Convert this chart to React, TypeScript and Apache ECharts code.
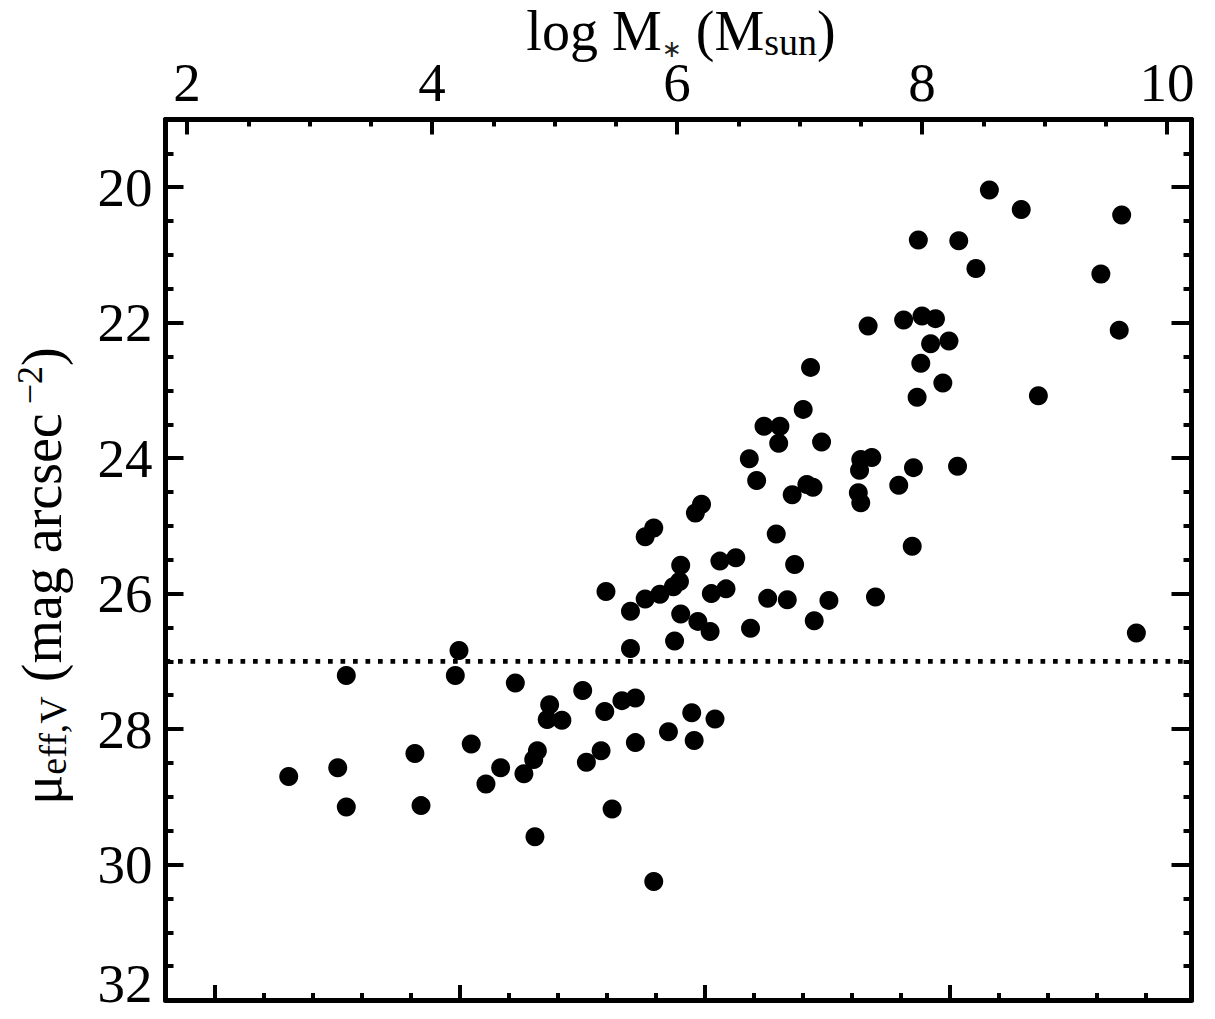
import React, { useEffect, useRef } from "react";
import * as echarts from "echarts";

// Axis ranges
const X_MIN = 1.824;
const X_MAX = 10.2;
const BX_MIN = 1.6;
const BX_MAX = 9.976;
const Y_MIN = 19;
const Y_MAX = 32;

// Tick values
const topMajor = [2, 4, 6, 8, 10];
const topMinor = [2.5, 3, 3.5, 4.5, 5, 5.5, 6.5, 7, 7.5, 8.5, 9, 9.5];
const bottomMajor = [2, 4, 6, 8];
const bottomMinor = [2.4, 2.8, 3.2, 3.6, 4.4, 4.8, 5.2, 5.6, 6.4, 6.8, 7.2, 7.6, 8.4, 8.8, 9.2, 9.6];
const yMajor = [20, 22, 24, 26, 28, 30, 32];
const yMinor = [19.5, 20.5, 21, 21.5, 22.5, 23, 23.5, 24.5, 25, 25.5, 26.5, 27, 27.5, 28.5, 29, 29.5, 30.5, 31, 31.5];

// Data: log stellar mass and effective surface brightness
const logMass = [
  2.83, 3.23, 3.30, 3.30, 3.86, 3.91, 4.22, 4.19, 4.32, 4.68,
  4.56, 4.44, 4.84, 4.96, 4.94, 5.06, 4.86, 4.83, 4.75, 5.23,
  5.41, 5.55, 5.66, 5.26, 5.38, 5.66, 5.93, 5.47, 5.81, 5.62,
  5.98, 6.12, 6.31, 6.14, 5.42, 5.62, 5.74, 5.86, 5.97, 6.02,
  6.03, 6.03, 6.17, 6.27, 5.81, 5.74, 6.20, 6.15, 6.35, 6.48,
  6.28, 6.40, 6.60, 6.74, 6.90, 7.12, 7.24, 7.62, 6.81, 6.96,
  6.65, 6.94, 7.06, 7.11, 6.59, 6.71, 6.84, 6.83, 7.18, 7.03,
  7.09, 7.50, 7.59, 7.49, 7.48, 7.50, 7.93, 7.81, 8.29, 7.92,
  7.56, 7.85, 8.00, 8.11, 8.07, 8.22, 7.99, 8.17, 7.96, 8.95,
  7.97, 8.30, 8.44, 8.55, 8.81, 9.63, 9.46, 9.61, 9.75,
];
const muEff = [
  28.70, 28.57, 27.21, 29.15, 28.36, 29.13, 26.84, 27.21, 28.22, 27.32,
  28.57, 28.81, 29.59, 27.64, 27.86, 27.87, 28.32, 28.45, 28.66, 27.43,
  27.74, 27.58, 27.54, 28.49, 28.32, 28.20, 28.04, 29.18, 30.25, 26.81,
  26.70, 27.76, 27.85, 28.17, 25.97, 26.26, 26.08, 26.01, 25.90, 25.82,
  25.58, 26.30, 26.41, 26.56, 25.03, 25.16, 24.68, 24.81, 25.52, 25.47,
  26.00, 25.93, 26.51, 26.07, 26.09, 26.40, 26.10, 26.05, 25.12, 25.57,
  24.33, 24.54, 24.39, 24.43, 24.01, 23.53, 23.53, 23.78, 23.76, 23.28,
  22.66, 24.02, 23.99, 24.18, 24.51, 24.66, 24.14, 24.40, 24.12, 25.30,
  22.05, 21.96, 21.90, 21.94, 22.31, 22.27, 22.60, 22.89, 23.10, 23.08,
  20.78, 20.79, 21.20, 20.04, 20.33, 20.41, 21.28, 22.11, 26.58,
];
const limitMu = 27;

const FONT = "Liberation Serif";

export default function App() {
  const ref = useRef<HTMLDivElement>(null);

  useEffect(() => {
    if (!ref.current) return;
    const chart = echarts.init(ref.current, undefined, { renderer: "svg" });

    const axisLine = { show: true, lineStyle: { color: "#000", width: 5 } };
    const noLine = { show: false };
    const label = {
      show: true,
      fontFamily: FONT,
      fontSize: 55,
      color: "#000",
    };

    const mkX = (position: string, min: number, max: number, ticks: number[], len: number, showLine: boolean, showLabel: boolean) => ({
      type: "value",
      position,
      min,
      max,
      axisLine: showLine ? axisLine : noLine,
      axisTick: { show: true, inside: true, length: len, customValues: ticks, lineStyle: { color: "#000", width: 4 } },
      axisLabel: showLabel ? { ...label, margin: 10, customValues: ticks } : { show: false },
      splitLine: { show: false },
      minorTick: { show: false },
    });
    const mkY = (position: string, ticks: number[], len: number, showLine: boolean, showLabel: boolean) => ({
      type: "value",
      position,
      inverse: true,
      min: Y_MIN,
      max: Y_MAX,
      axisLine: showLine ? axisLine : noLine,
      axisTick: { show: true, inside: true, length: len, customValues: ticks, lineStyle: { color: "#000", width: 4 } },
      axisLabel: showLabel
        ? {
            ...label,
            margin: 13,
            customValues: ticks,
            formatter: (v: number) => (v === Y_MAX ? `{b|${v}}` : `${v}`),
            rich: {
              b: { fontFamily: FONT, fontSize: 55, color: "#000", padding: [0, 0, 34, 0] },
            },
          }
        : { show: false },
      splitLine: { show: false },
    });

    const mainRich = {
      n: { fontFamily: FONT, fontSize: 56, lineHeight: 60, fill: "#000", color: "#000" },
      s: { fontFamily: FONT, fontSize: 38, lineHeight: 24, verticalAlign: "bottom", fill: "#000", color: "#000" },
      st: { fontFamily: "DejaVu Sans", fontSize: 24, lineHeight: 22, verticalAlign: "bottom", fill: "#222", color: "#222" },
      p: { fontFamily: FONT, fontSize: 36, lineHeight: 14, verticalAlign: "top", fill: "#000", color: "#000" },
    };

    chart.setOption({
      animation: false,
      backgroundColor: "#fff",
      grid: { left: 165.5, right: 23.5, top: 119.5, bottom: 19, containLabel: false, outerBoundsMode: "none" },
      xAxis: [
        mkX("top", X_MIN, X_MAX, topMajor, 15, true, true),
        mkX("top", X_MIN, X_MAX, topMinor, 7, false, false),
        mkX("bottom", BX_MIN, BX_MAX, bottomMajor, 15, true, false),
        mkX("bottom", BX_MIN, BX_MAX, bottomMinor, 7, false, false),
      ],
      yAxis: [
        mkY("left", yMajor, 18, true, true),
        mkY("left", yMinor, 8, false, false),
        mkY("right", yMajor, 20, true, false),
        mkY("right", yMinor, 8, false, false),
      ],
      series: [
        {
          type: "line",
          xAxisIndex: 0,
          yAxisIndex: 0,
          data: [[X_MIN, limitMu], [X_MAX, limitMu]],
          symbol: "none",
          lineStyle: { color: "#000", width: 4.7, type: [4.7, 7.8], cap: "butt" },
          silent: true,
          z: 1,
        },
        {
          type: "scatter",
          xAxisIndex: 0,
          yAxisIndex: 0,
          data: logMass.map((m, i) => [m, muEff[i]]),
          symbol: "circle",
          symbolSize: 19,
          itemStyle: { color: "#000", opacity: 1 },
          z: 2,
        },
      ],
      graphic: [
        {
          type: "text",
          x: 681,
          y: 31,
          style: {
            text: "{n|log M}{st|\u2217}{n| (M}{s|sun}{n|)}",
            rich: mainRich,
            align: "center",
            textAlign: "center",
            verticalAlign: "middle",
            textVerticalAlign: "middle",
            fill: "#000",
          },
        },
        {
          type: "text",
          x: 42,
          y: 576,
          rotation: Math.PI / 2,
          style: {
            text: "{n|\u03bc}{s|eff,V}{n| (mag arcsec}{p| \u22122}{n|)}",
            rich: mainRich,
            align: "center",
            textAlign: "center",
            verticalAlign: "middle",
            textVerticalAlign: "middle",
            fill: "#000",
          },
        },
      ],
    });

    return () => chart.dispose();
  }, []);

  return (
    <div
      ref={ref}
      style={{ position: "absolute", left: 0, top: 0, width: 1215, height: 1019, background: "#fff" }}
    />
  );
}
